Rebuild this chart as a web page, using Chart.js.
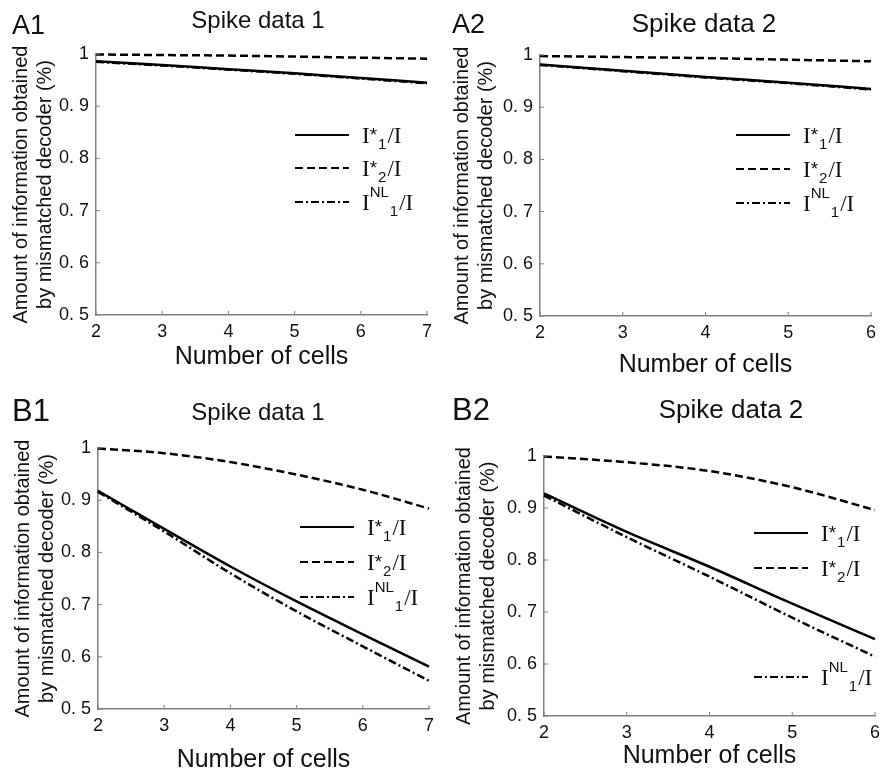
<!DOCTYPE html>
<html>
<head>
<meta charset="utf-8">
<script src="https://cdn.jsdelivr.net/npm/chart.js@4.4.1/dist/chart.umd.min.js"></script>
<style>
  body { margin:0; background:#fff; }
  #wrap { position:relative; width:888px; height:769px; overflow:hidden; }
  canvas { position:absolute; }
</style>
</head>
<body>
<div id="wrap">
  <canvas id="a1" width="444" height="385" style="left:0;top:0"></canvas>
  <canvas id="a2" width="444" height="385" style="left:444px;top:0"></canvas>
  <canvas id="b1" width="444" height="384" style="left:0;top:385px"></canvas>
  <canvas id="b2" width="444" height="384" style="left:444px;top:385px"></canvas>
</div>
<script>
// data
const cells7 = [2,3,4,5,6,7];
const cells6 = [2,3,4,5,6];

const a1Star1 = [0.986,0.979,0.971,0.963,0.954,0.945];
const a1Star2 = [0.999,0.998,0.997,0.995,0.993,0.991];
const a1NL1   = [0.985,0.978,0.970,0.962,0.953,0.944];

const a2Star1 = [0.982,0.970,0.958,0.947,0.935];
const a2Star2 = [0.998,0.996,0.994,0.991,0.988];
const a2NL1   = [0.981,0.969,0.957,0.946,0.934];

const b1Star1 = [0.918,0.845,0.773,0.706,0.643,0.581];
const b1Star2 = [0.999,0.990,0.973,0.949,0.920,0.884];
const b1NL1   = [0.916,0.840,0.760,0.687,0.620,0.554];

const b2Star1 = [0.928,0.854,0.787,0.716,0.648];
const b2Star2 = [0.999,0.988,0.971,0.940,0.896];
const b2NL1   = [0.924,0.844,0.768,0.689,0.614];

const seriesNames = ["I*1/I","I*2/I","INL1/I"];
// legend text pieces: m = main, star/sup = raised, sub = lowered
const legendParts = [
  [["I","m"],["*","star"],["1","sub"],["/I","m"]],
  [["I","m"],["*","star"],["2","sub"],["/I","m"]],
  [["I","m"],["NL","sup"],["1","sub"],["/I","m"]]
];
const yTitle = ["Amount of information obtained","by mismatched decoder (%)"];
const xTitle = "Number of cells";

const SANS = '"Liberation Sans", Arial, sans-serif';
const SERIF = '"Liberation Serif", "Times New Roman", serif';
const INK = "#111";
const AXIS = "#808080";

function drawMath(ctx, parts, x, y){
  ctx.textAlign = "left";
  ctx.textBaseline = "alphabetic";
  parts.forEach(([t,k])=>{
    let dy = 0;
    if(k==="m"){ ctx.font = "23px " + SERIF; }
    else if(k==="star"){ ctx.font = "19px " + SANS; dy = -2; }
    else { ctx.font = "15px " + SANS; dy = k==="sub" ? 6 : -13; }
    ctx.fillText(t, x, y + dy);
    x += ctx.measureText(t).width + (k==="m" ? 0 : 1);
  });
}

const panelDecor = {
  id:"panelDecor",
  afterDraw(chart, args, o){
    const ctx = chart.ctx;
    const {left, bottom} = chart.chartArea;
    ctx.save();
    ctx.fillStyle = INK;
    ctx.textBaseline = "alphabetic";
    ctx.textAlign = "left";
    ctx.font = o.tagSize + "px " + SANS;
    ctx.fillText(o.tag, o.tagX, o.tagY);
    ctx.textAlign = "center";
    ctx.font = o.titleSize + "px " + SANS;
    ctx.fillText(o.title, o.titleX, o.titleY);

    // small inward ticks
    ctx.strokeStyle = AXIS;
    ctx.lineWidth = 1;
    const xs = chart.scales.x, ys = chart.scales.y;
    ctx.beginPath();
    xs.ticks.forEach((t,i)=>{ const p = xs.getPixelForTick(i); ctx.moveTo(p,bottom); ctx.lineTo(p,bottom-4); });
    ys.ticks.forEach((t,i)=>{ const p = ys.getPixelForTick(i); ctx.moveTo(left,p); ctx.lineTo(left+4,p); });
    ctx.stroke();

    // legend
    o.rows.forEach((ry,i)=>{
      const ds = chart.data.datasets[i];
      ctx.strokeStyle = ds.borderColor;
      ctx.lineWidth = 2;
      ctx.setLineDash(ds.borderDash);
      ctx.beginPath();
      ctx.moveTo(o.legendX, ry);
      ctx.lineTo(o.legendX + 54, ry);
      ctx.stroke();
      ctx.setLineDash([]);
      ctx.fillStyle = INK;
      drawMath(ctx, legendParts[i], o.legendX + 67, ry + 7.5);
    });
    ctx.restore();
  }
};

function makeDatasets(s1, s2, nl){
  const base = {borderColor:"#000", borderWidth:2.5, pointRadius:0, fill:false, cubicInterpolationMode:"monotone", clip:5};
  return [
    Object.assign({label:seriesNames[0], data:s1, borderDash:[]}, base),
    Object.assign({label:seriesNames[1], data:s2, borderDash:[8,4]}, base),
    Object.assign({label:seriesNames[2], data:nl, borderDash:[8,3,2,3]}, base)
  ];
}

function makePanel(id, cells, sets, p){
  new Chart(document.getElementById(id), {
    type:"line",
    data:{labels:cells, datasets:makeDatasets(...sets)},
    options:{
      responsive:false,
      animation:false,
      layout:{padding:{left:0, top:p.padTop, right:p.padRight, bottom:0}},
      plugins:{legend:{display:false}, tooltip:{enabled:false}, panelDecor:p.decor},
      scales:{
        x:{
          grid:{display:false, drawTicks:false},
          border:{color:AXIS, width:1.5},
          ticks:{color:INK, font:{family:SANS, size:18}, padding:6, maxRotation:0, autoSkip:false},
          title:{display:true, text:xTitle, color:INK, font:{family:SANS, size:25, lineHeight:1.2}, padding:{top:0, bottom:p.xTitlePad}},
          afterFit:s=>{ s.height = p.xH; }
        },
        y:{
          min:0.5, max:1,
          grid:{display:false, drawTicks:false},
          border:{color:AXIS, width:1.5},
          ticks:{stepSize:0.1, color:INK, font:{family:SANS, size:18}, padding:7,
                 callback:v=> Math.abs(v-1)<1e-9 ? "1" : v.toFixed(1).replace(".", ". ")},
          title:{display:true, text:yTitle, color:INK, font:{family:SANS, size:20, lineHeight:1.2}, padding:{top:p.yTitlePad, bottom:0}},
          afterFit:s=>{ s.width = p.yW; }
        }
      }
    },
    plugins:[panelDecor]
  });
}

makePanel("a1", cells7, [a1Star1,a1Star2,a1NL1], {
  padTop:54, padRight:17, xH:70, yW:96, xTitlePad:13, yTitlePad:9,
  decor:{tag:"A1", tagSize:27, tagX:12, tagY:34, title:"Spike data 1", titleSize:24, titleX:258, titleY:28, legendX:295, rows:[135,168,202]}
});
makePanel("a2", cells6, [a2Star1,a2Star2,a2NL1], {
  padTop:55, padRight:17, xH:69, yW:96, xTitlePad:5, yTitlePad:6,
  decor:{tag:"A2", tagSize:27, tagX:8, tagY:33, title:"Spike data 2", titleSize:26, titleX:260, titleY:32, legendX:292, rows:[135,169,203]}
});
makePanel("b1", cells7, [b1Star1,b1Star2,b1NL1], {
  padTop:63, padRight:15, xH:60, yW:98, xTitlePad:-6, yTitlePad:11,
  decor:{tag:"B1", tagSize:31, tagX:12, tagY:36, title:"Spike data 1", titleSize:24, titleX:258, titleY:35, legendX:300, rows:[142,177,212]}
});
makePanel("b2", cells6, [b2Star1,b2Star2,b2NL1], {
  padTop:71, padRight:13, xH:53, yW:100, xTitlePad:-2, yTitlePad:8,
  decor:{tag:"B2", tagSize:31, tagX:8, tagY:35, title:"Spike data 2", titleSize:26, titleX:287, titleY:33, legendX:310, rows:[148,183,292]}
});
</script>
</body>
</html>
